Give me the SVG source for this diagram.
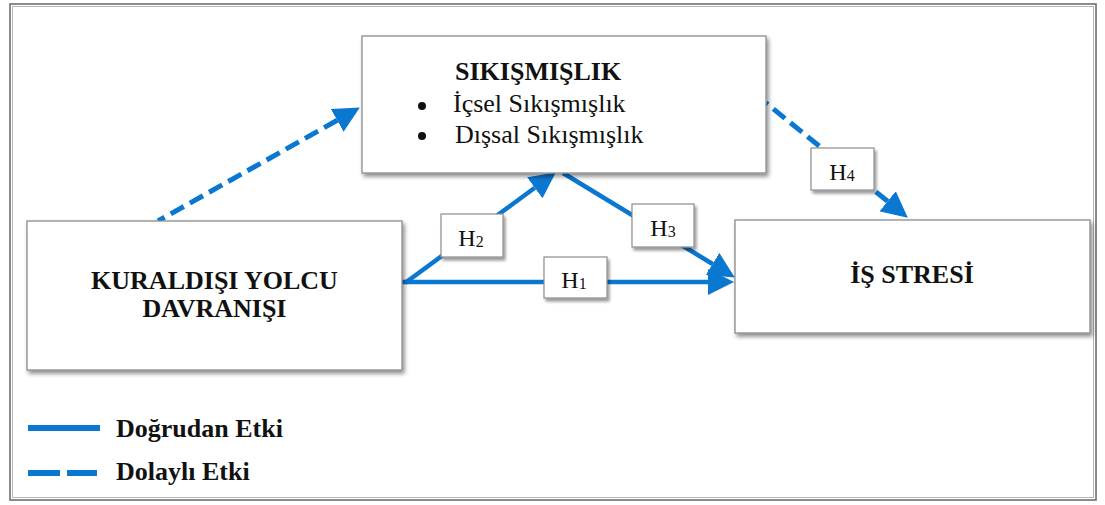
<svg xmlns="http://www.w3.org/2000/svg" width="1105" height="505" viewBox="0 0 1105 505">
<style>
.box{fill:#fff;stroke:#8c8c8c;stroke-width:1.3;filter:url(#sh)}
.lbl{fill:#fff;stroke:#8c8c8c;stroke-width:1.2;filter:url(#sh2)}
.t{font-family:"Liberation Serif","Times New Roman",serif;fill:#111}
.b{font-weight:bold;font-size:26px}
.r{font-size:26px}
.h{font-size:24px}
.sub{font-size:16px}
.solid{fill:none;stroke:#0a77d1;stroke-width:4.5}
.dash{fill:none;stroke:#0a77d1;stroke-width:5;stroke-dasharray:15 7}
</style>
<defs>
<filter id="sh" x="-10%" y="-10%" width="125%" height="130%">
<feDropShadow dx="2" dy="3" stdDeviation="2" flood-color="#000" flood-opacity="0.45"/>
</filter>
<filter id="sh2" x="-20%" y="-20%" width="150%" height="160%">
<feDropShadow dx="2" dy="3" stdDeviation="1.8" flood-color="#000" flood-opacity="0.4"/>
</filter>
<marker id="ah" markerUnits="userSpaceOnUse" viewBox="0 0 26 26" refX="0" refY="13" markerWidth="26" markerHeight="26" orient="auto">
<path d="M0,0 L26,13 L0,26 Z" fill="#0a77d1"/>
</marker>
</defs>
<rect x="0" y="0" width="1105" height="505" fill="#fff"/>
<g id="frame">
<rect x="10" y="4" width="1086" height="496" fill="none" stroke="#6e6e6e" stroke-width="1.6"/>
<rect x="12.5" y="6.5" width="1081" height="491" fill="none" stroke="#b5b5b5" stroke-width="1"/>
</g>
<g id="connectors">
<path class="dash" d="M158,221 L337.2,120.3" stroke-dashoffset="7.4" marker-end="url(#ah)"/>
<path class="solid" d="M402,282 L708,282" marker-end="url(#ah)"/>
<path class="solid" d="M405,283 L534.8,187.8" marker-end="url(#ah)"/>
<path class="solid" d="M563,173 L712.6,264" marker-end="url(#ah)"/>
<path class="dash" d="M766,103 L887.6,201.3" stroke-dashoffset="12.6" marker-end="url(#ah)"/>
</g>
<g id="node-sikismislik">
<rect class="box" x="362" y="36" width="404" height="137"/>
<text class="t b" x="455" y="80">SIKIŞMIŞLIK</text>
<circle cx="422" cy="106" r="4" fill="#111"/>
<text class="t r" x="453" y="112">İçsel Sıkışmışlık</text>
<circle cx="422" cy="136" r="4" fill="#111"/>
<text class="t r" x="455" y="143">Dışsal Sıkışmışlık</text>
</g>
<g id="node-kuraldisi">
<rect class="box" x="27" y="221" width="375" height="149"/>
<text class="t b" x="214.5" y="289" text-anchor="middle">KURALDIŞI YOLCU</text>
<text class="t b" x="214.5" y="317" text-anchor="middle">DAVRANIŞI</text>
</g>
<g id="node-isstresi">
<rect class="box" x="735" y="220" width="355" height="113"/>
<text class="t b" x="912" y="283" text-anchor="middle">İŞ STRESİ</text>
</g>
<g id="label-h1">
<rect class="lbl" x="544" y="257" width="63" height="41"/>
<text class="t h" x="574" y="288" text-anchor="middle">H<tspan class="sub" dy="1">1</tspan></text>
</g>
<g id="label-h2">
<rect class="lbl" x="441" y="214" width="62" height="43"/>
<text class="t h" x="471" y="246" text-anchor="middle">H<tspan class="sub" dy="1">2</tspan></text>
</g>
<g id="label-h3">
<rect class="lbl" x="632" y="204" width="62" height="43"/>
<text class="t h" x="663" y="236" text-anchor="middle">H<tspan class="sub" dy="1">3</tspan></text>
</g>
<g id="label-h4">
<rect class="lbl" x="811" y="148" width="63" height="42"/>
<text class="t h" x="842" y="180" text-anchor="middle">H<tspan class="sub" dy="1">4</tspan></text>
</g>
<g id="legend">
<line x1="28" y1="428" x2="100" y2="428" stroke="#0a77d1" stroke-width="6"/>
<text class="t b" x="116" y="437">Doğrudan Etki</text>
<line x1="28" y1="473" x2="60" y2="473" stroke="#0a77d1" stroke-width="6"/>
<line x1="67" y1="473" x2="97" y2="473" stroke="#0a77d1" stroke-width="6"/>
<text class="t b" x="116" y="480">Dolaylı Etki</text>
</g>
</svg>
